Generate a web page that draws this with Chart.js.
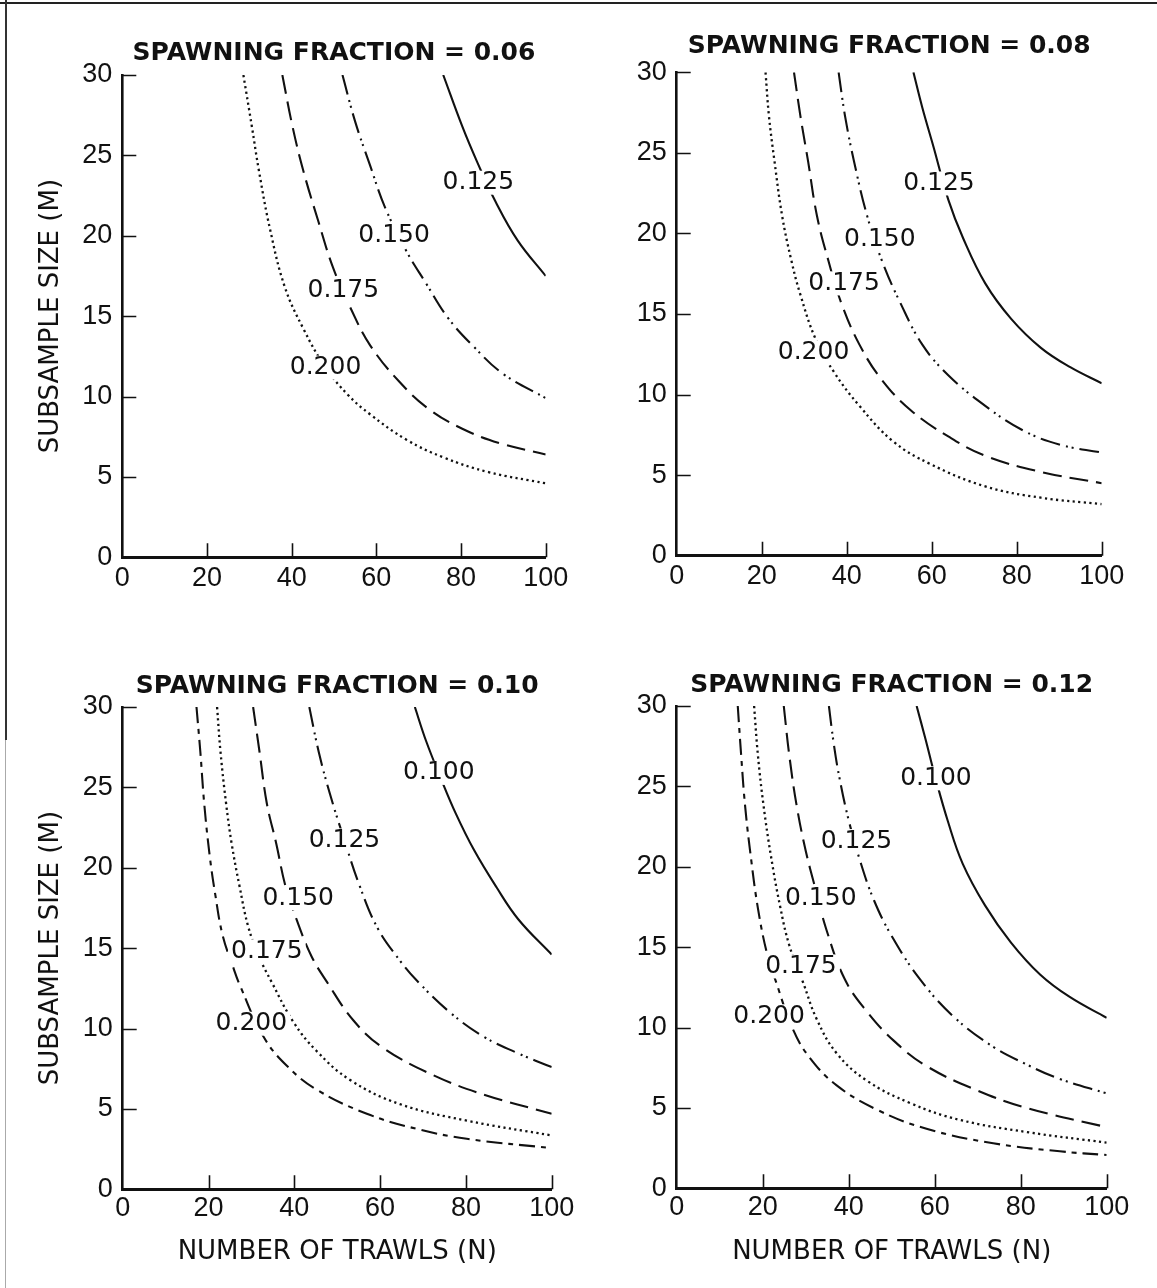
<!DOCTYPE html>
<html lang="en">
<head>
  <meta charset="UTF-8">
  <title>Spawning fraction - subsample size vs number of trawls</title>
  <script src="https://cdn.jsdelivr.net/npm/chart.js"></script>
  <style>
    body {
      margin: 0;
      background: #ffffff;
    }
    #fig {
      position: relative;
      width: 1157px;
      height: 1288px;
      background: #ffffff;
      overflow: hidden;
    }
    /* scanned frame lines */
    .frame-top { position: absolute; left: 0; top: 2px; width: 1157px; height: 2px; background: #222; }
    .frame-left { position: absolute; left: 5px; top: 0; width: 2px; height: 740px; background: #333; }
    .frame-left2 { position: absolute; left: 5px; top: 740px; width: 1px; height: 548px; background: #aaa; }
    canvas { position: absolute; }
  </style>
</head>
<body>
  <div id="fig">
    <div class="frame-top"></div>
    <div class="frame-left"></div>
    <div class="frame-left2"></div>
    <canvas id="c1" width="578" height="640" style="left:0;top:0"></canvas>
    <canvas id="c2" width="579" height="640" style="left:578px;top:0"></canvas>
    <canvas id="c3" width="578" height="648" style="left:0;top:640px"></canvas>
    <canvas id="c4" width="579" height="648" style="left:578px;top:640px"></canvas>
  </div>

  <script>
    // ---- data: N = number of trawls, M = subsample size ----

    // spawning fraction 0.06
    const sf06_125_n = [75.8, 80.3, 83.8, 88.2, 93.4, 100];
    const sf06_125_m = [30, 26.8, 24.6, 22.1, 19.7, 17.5];
    const sf06_150_n = [52, 55, 58.5, 62, 67.2, 71.6, 76.9, 83, 90, 100];
    const sf06_150_m = [30, 27.1, 24.4, 21.8, 19.0, 17.1, 14.9, 13.1, 11.4, 9.9];
    const sf06_175_n = [37.8, 40.2, 42.8, 46.3, 49.8, 54.1, 58.5, 65.5, 72.5, 80.3, 89.1, 100];
    const sf06_175_m = [30, 26.8, 24.0, 20.9, 18.0, 15.4, 13.2, 10.9, 9.2, 8.0, 7.1, 6.4];
    const sf06_200_n = [28.6, 30.6, 32.3, 34.9, 38.4, 42.8, 48.0, 53.3, 58.5, 67.2, 76.0, 86.5, 100];
    const sf06_200_m = [30, 26.8, 24.0, 20.4, 16.8, 14.2, 11.8, 10.1, 8.9, 7.3, 6.2, 5.3, 4.6];

    // spawning fraction 0.08
    const sf08_125_n = [55.7, 57.8, 60.4, 63.9, 67.4, 72.6, 78.7, 85.7, 92.6, 100];
    const sf08_125_m = [30, 27.8, 25.4, 22.1, 19.7, 16.9, 14.7, 12.9, 11.7, 10.7];
    const sf08_150_n = [38.1, 39.6, 41.7, 44.8, 48.3, 52.6, 57.8, 63.9, 72.6, 81.3, 90, 100];
    const sf08_150_m = [30, 27.3, 24.5, 21.1, 18.3, 15.7, 13.1, 11.2, 9.3, 7.8, 6.9, 6.4];
    const sf08_175_n = [27.6, 29.1, 30.9, 33, 35.7, 38.7, 43, 48.3, 55.2, 63.9, 72.6, 85.7, 100];
    const sf08_175_m = [30, 27.3, 24.5, 21.1, 18.3, 15.7, 13.1, 10.9, 9.0, 7.4, 6.2, 5.2, 4.5];
    const sf08_200_n = [20.9, 21.7, 23, 24.8, 27, 29.1, 32.6, 37, 43, 50.9, 59.6, 72.6, 85.7, 100];
    const sf08_200_m = [30, 27.3, 24.5, 21.1, 18.3, 16.2, 13.5, 11.4, 9.3, 7.1, 5.7, 4.3, 3.6, 3.2];

    // spawning fraction 0.10
    const sf10_100_n = [68.1, 70.7, 74.1, 77.6, 81.9, 87.1, 92.2, 100];
    const sf10_100_m = [30, 27.9, 25.6, 23.4, 21.1, 18.8, 16.8, 14.6];
    const sf10_125_n = [43.5, 45.7, 48.3, 51.7, 55.2, 59.5, 64.7, 68.5, 76.3, 84.1, 91.8, 100];
    const sf10_125_m = [30, 27.2, 24.6, 21.7, 18.9, 16.2, 14.2, 13.0, 11.0, 9.5, 8.5, 7.6];
    const sf10_150_n = [30.4, 31.9, 33.6, 35.8, 37.9, 40.5, 44, 47.6, 53.8, 60.7, 72.4, 84.1, 100];
    const sf10_150_m = [30, 27.2, 24.0, 21.5, 18.9, 16.8, 14.5, 12.9, 10.5, 8.8, 7.1, 5.9, 4.7];
    const sf10_175_n = [22, 22.8, 24.1, 25.4, 27.2, 29.3, 31.9, 34.7, 39.8, 45.2, 53, 64.6, 80.2, 100];
    const sf10_175_m = [30, 27.2, 24.0, 21.5, 18.9, 16.3, 14.4, 12.9, 10.4, 8.6, 6.8, 5.3, 4.27, 3.35];
    const sf10_200_n = [17.2, 18.1, 19, 20.3, 21.6, 23.3, 25.9, 27.3, 32.8, 38.2, 45.2, 56.9, 68.5, 80.2, 100];
    const sf10_200_m = [30, 27.2, 24.0, 20.7, 18.3, 15.8, 13.7, 12.7, 9.5, 7.7, 6.2, 4.7, 3.76, 3.14, 2.56];

    // spawning fraction 0.12
    const sf12_100_n = [55.8, 57.9, 60.1, 63.1, 66.5, 71.7, 77.7, 84.5, 91.4, 100];
    const sf12_100_m = [30, 27.9, 25.6, 22.8, 20.2, 17.6, 15.3, 13.3, 11.9, 10.6];
    const sf12_125_n = [35.4, 36.5, 37.8, 39.9, 42.5, 45.9, 50.2, 56.6, 64.3, 73.6, 81.4, 89.1, 100];
    const sf12_125_m = [30, 27.7, 25.6, 23.0, 20.5, 17.9, 15.6, 13.0, 10.7, 8.8, 7.7, 6.8, 5.9];
    const sf12_150_n = [24.9, 26.2, 27.9, 30, 32.2, 34.8, 39.1, 44.2, 50.4, 58.1, 69.8, 81.4, 100];
    const sf12_150_m = [30, 26.9, 23.8, 21.0, 18.7, 16.1, 13.0, 11.0, 9.2, 7.6, 6.1, 5.0, 3.8];
    const sf12_175_n = [18, 18.9, 20.2, 21.9, 24, 26.2, 29.4, 32.6, 37.2, 44.2, 54.3, 65.9, 81.4, 100];
    const sf12_175_m = [30, 26.9, 23.8, 20.7, 17.6, 15.1, 12.8, 10.5, 8.4, 6.7, 5.3, 4.25, 3.5, 2.84];
    const sf12_200_n = [14.2, 15, 15.9, 17.2, 18.9, 21, 22.9, 27.1, 31, 37.2, 46.5, 58.1, 73.6, 89.1, 100];
    const sf12_200_m = [30, 26.9, 23.8, 20.7, 17.4, 14.6, 13.0, 9.85, 8.1, 6.4, 4.9, 3.7, 2.8, 2.3, 2.07];

    // contour labels (text and where it sits, in data units)
    const lab4_text = ['0.125', '0.150', '0.175', '0.200'];
    const lab5_text = ['0.100', '0.125', '0.150', '0.175', '0.200'];
    const lab06_n = [84.1, 64.2, 52.2, 48.0];
    const lab06_m = [23.3, 20.0, 16.6, 11.8];
    const lab08_n = [61.7, 47.8, 39.4, 32.2];
    const lab08_m = [23.1, 19.6, 16.9, 12.6];
    const lab10_n = [73.7, 51.7, 40.9, 33.6, 30.0];
    const lab10_m = [25.9, 21.7, 18.1, 14.8, 10.3];
    const lab12_n = [60.3, 41.8, 33.5, 28.9, 21.5];
    const lab12_m = [25.5, 21.6, 18.0, 13.8, 10.7];

    const xTicks = [0, 20, 40, 60, 80, 100];
    const yTicks = [0, 5, 10, 15, 20, 25, 30];

    // line styles, in curve order (solid, dash-dot-dot, dashed, dotted, dash-dot)
    const dashes = [[], [20, 6, 2, 4, 2, 6], [19, 8], [2.2, 3.4], [16, 6, 5, 6]];
    const INK = '#111';

    Chart.defaults.font.family = '"Liberation Sans", Arial, sans-serif';
    Chart.defaults.color = INK;

    function toPoints(n, m) {
      return n.map((v, i) => ({ x: v, y: m[i] }));
    }

    // inward tick marks + contour labels with a white knock-out box
    function figurePlugin(texts, ln, lm) {
      return {
        id: 'figureMarks',
        afterDatasetsDraw(chart) {
          const ctx = chart.ctx;
          const xs = chart.scales.x, ys = chart.scales.y;
          ctx.save();
          ctx.font = '25px "DejaVu Sans"';
          ctx.textAlign = 'center';
          ctx.textBaseline = 'middle';
          texts.forEach((t, i) => {
            const px = xs.getPixelForValue(ln[i]);
            const py = ys.getPixelForValue(lm[i]);
            const w = ctx.measureText(t).width;
            ctx.fillStyle = '#ffffff';
            ctx.fillRect(px - w / 2 - 3, py - 12, w + 6, 24);
            ctx.fillStyle = INK;
            ctx.fillText(t, px, py);
          });
          ctx.restore();
        },
        afterDraw(chart) {
          const ctx = chart.ctx;
          const xs = chart.scales.x, ys = chart.scales.y;
          const a = chart.chartArea;
          ctx.save();
          ctx.strokeStyle = INK;
          ctx.lineWidth = 1.6;
          ctx.beginPath();
          xs.ticks.forEach(t => {
            if (t.value === 0) return;
            const px = Math.round(xs.getPixelForValue(t.value)) + 0.5;
            ctx.moveTo(px, a.bottom);
            ctx.lineTo(px, a.bottom - 14);
          });
          ys.ticks.forEach(t => {
            if (t.value === 0) return;
            const py = Math.round(ys.getPixelForValue(t.value)) + 0.5;
            ctx.moveTo(a.left, py);
            ctx.lineTo(a.left + 14, py);
          });
          ctx.stroke();
          ctx.restore();
        }
      };
    }

    function makePanel(p) {
      const g = p.geom;
      const datasets = p.curves.map((c, i) => ({
        data: toPoints(c[0], c[1]),
        borderColor: INK,
        borderWidth: i === 3 ? 2.3 : 2.1,
        borderDash: dashes[i],
        pointRadius: 0,
        fill: false,
        tension: 0.4
      }));
      new Chart(document.getElementById(p.id).getContext('2d'), {
        type: 'scatter',
        data: { datasets: datasets },
        options: {
          responsive: false,
          animation: false,
          showLine: true,
          layout: { padding: { left: 0, top: 0, bottom: 0, right: g.w - g.r } },
          plugins: {
            legend: { display: false },
            tooltip: { enabled: false },
            title: {
              display: true,
              text: p.title,
              fullSize: false,
              color: INK,
              font: { family: '"DejaVu Sans"', size: 25, weight: 'bold', lineHeight: 1.2 },
              padding: { top: g.titleY - 15, bottom: g.t - g.titleY - 15 }
            }
          },
          scales: {
            x: {
              type: 'linear',
              min: 0,
              max: 100,
              afterBuildTicks: s => { s.ticks = xTicks.map(v => ({ value: v })); },
              afterFit: s => { s.height = g.h - g.b; },
              grid: { drawOnChartArea: false, drawTicks: false },
              border: { display: true, color: INK, width: 3 },
              ticks: { autoSkip: false, maxRotation: 0, padding: g.xPad, color: INK, font: { size: 27 } },
              title: {
                display: p.xTitle,
                text: 'NUMBER OF TRAWLS (N)',
                color: INK,
                font: { family: '"DejaVu Sans"', size: 26 },
                padding: { top: 0, bottom: g.h - g.xTitleY - 15.6 }
              }
            },
            y: {
              type: 'linear',
              min: 0,
              max: 30,
              afterBuildTicks: s => { s.ticks = yTicks.map(v => ({ value: v })); },
              afterFit: s => { s.width = g.l; },
              grid: { drawOnChartArea: false, drawTicks: false },
              border: { display: true, color: INK, width: 2.6 },
              ticks: { autoSkip: false, padding: 10, color: INK, font: { size: 27 } },
              title: {
                display: p.yTitle,
                text: 'SUBSAMPLE SIZE (M)',
                color: INK,
                font: { family: '"DejaVu Sans"', size: 26 },
                padding: { top: 36, bottom: 0 }
              }
            }
          }
        },
        plugins: [figurePlugin(p.labels, p.ln, p.lm)]
      });
    }

    makePanel({
      id: 'c1', title: 'SPAWNING FRACTION = 0.06', xTitle: false, yTitle: true,
      curves: [[sf06_125_n, sf06_125_m], [sf06_150_n, sf06_150_m], [sf06_175_n, sf06_175_m], [sf06_200_n, sf06_200_m]],
      labels: lab4_text, ln: lab06_n, lm: lab06_m,
      geom: { w: 578, h: 640, l: 122.3, r: 545.7, t: 75, b: 557.3, titleY: 53, xPad: 5, xTitleY: 0 }
    });
    makePanel({
      id: 'c2', title: 'SPAWNING FRACTION = 0.08', xTitle: false, yTitle: false,
      curves: [[sf08_125_n, sf08_125_m], [sf08_150_n, sf08_150_m], [sf08_175_n, sf08_175_m], [sf08_200_n, sf08_200_m]],
      labels: lab4_text, ln: lab08_n, lm: lab08_m,
      geom: { w: 579, h: 640, l: 98.7, r: 523.7, t: 72.3, b: 555.7, titleY: 46, xPad: 5, xTitleY: 0 }
    });
    makePanel({
      id: 'c3', title: 'SPAWNING FRACTION = 0.10', xTitle: true, yTitle: true,
      curves: [[sf10_100_n, sf10_100_m], [sf10_125_n, sf10_125_m], [sf10_150_n, sf10_150_m], [sf10_175_n, sf10_175_m], [sf10_200_n, sf10_200_m]],
      labels: lab5_text, ln: lab10_n, lm: lab10_m,
      geom: { w: 578, h: 648, l: 122.7, r: 551.7, t: 67, b: 549.3, titleY: 46, xPad: 3, xTitleY: 612 }
    });
    makePanel({
      id: 'c4', title: 'SPAWNING FRACTION = 0.12', xTitle: true, yTitle: false,
      curves: [[sf12_100_n, sf12_100_m], [sf12_125_n, sf12_125_m], [sf12_150_n, sf12_150_m], [sf12_175_n, sf12_175_m], [sf12_200_n, sf12_200_m]],
      labels: lab5_text, ln: lab12_n, lm: lab12_m,
      geom: { w: 579, h: 648, l: 98.7, r: 528.7, t: 66, b: 548.3, titleY: 45.5, xPad: 3, xTitleY: 612 }
    });
  </script>
</body>
</html>
